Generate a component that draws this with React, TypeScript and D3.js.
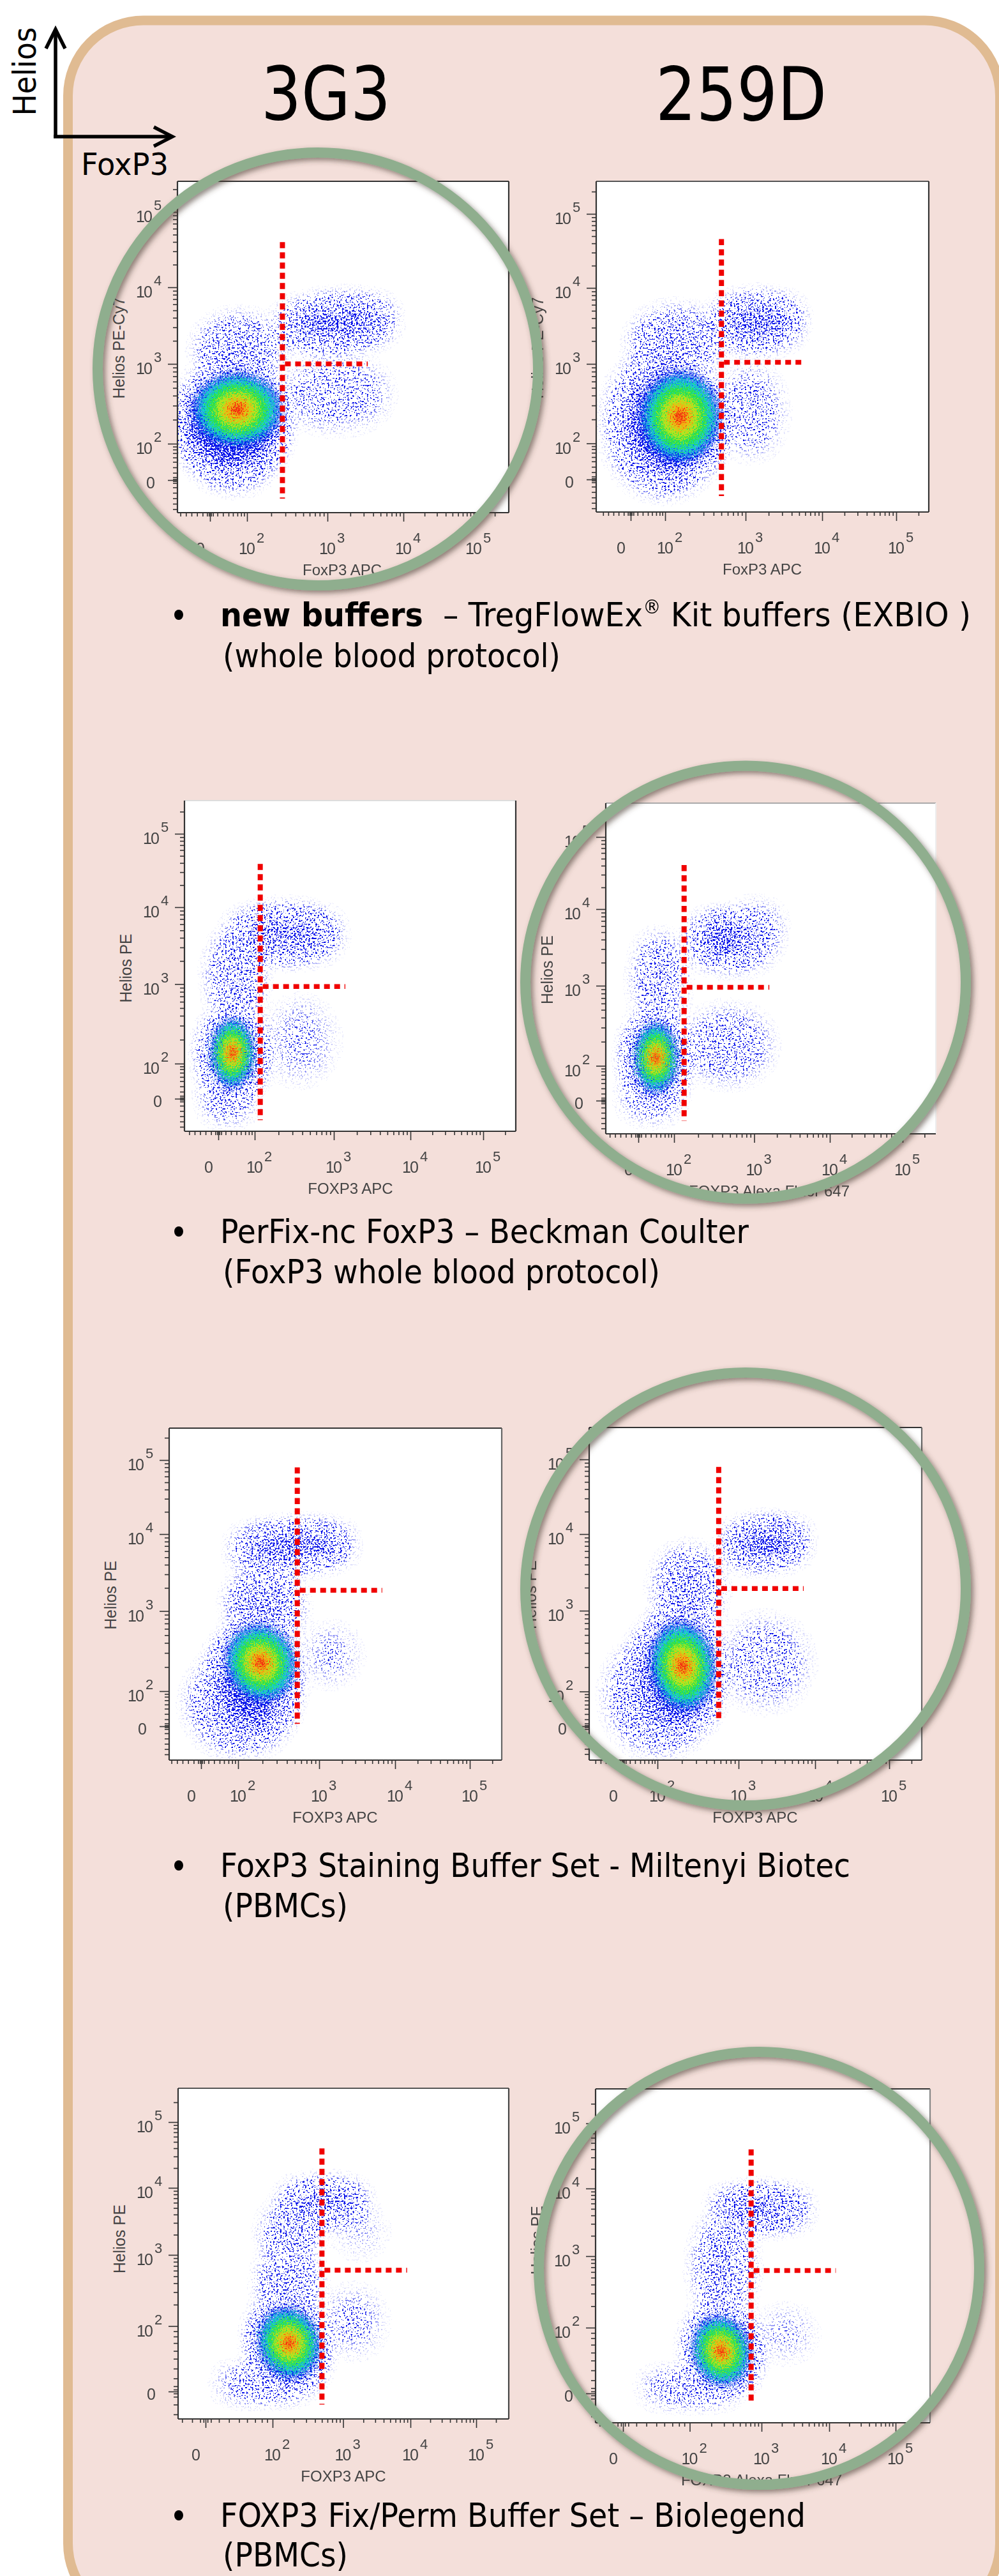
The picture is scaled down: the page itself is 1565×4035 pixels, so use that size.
import React, { useEffect, useRef } from 'react';
import * as d3 from 'd3';

// axis positions are in decades: 1 is the "0" tick, 2 is 10^2 ... 5 is 10^5
const tickDecades = [1, 2, 3, 4, 5];
const tickExponents = ['', '2', '3', '4', '5'];
const lowTicks = [0.2, 0.35, 0.5, 0.65, 0.8, 0.92, 0.97, 1.03, 1.08, 1.2, 1.35, 1.5, 1.62, 1.74, 1.84, 1.92];
const minorTicks = lowTicks.concat(
  d3.range(2, 6).flatMap((d) => d3.range(2, 10).map((k) => d + Math.log10(k))).filter((v) => v < 5.45),
);

// each cloud: xLow, xHigh, yLow, yHigh (decades), rotation, share of pixels holding an event
const clouds1 = [
  [0.4, 2.35, 1.5, 2.75, 0, 0.75],
  [0.5, 2.35, 1.05, 2.95, 0, 0.24],
  [0.9, 2.3, 2.85, 3.5, 0, 0.2],
  [2.5, 3.75, 3.35, 3.72, -4, 0.5],
  [2.55, 3.7, 2.3, 2.95, 0, 0.09],
];
const clouds2 = [
  [1.1, 2.6, 1.35, 2.8, 0, 0.75],
  [0.6, 2.55, 0.85, 3.05, 0, 0.22],
  [1.3, 2.55, 2.95, 3.6, 0, 0.2],
  [2.7, 3.6, 3.35, 3.75, -3, 0.5],
  [2.8, 3.35, 1.9, 2.85, 0, 0.1],
];
const clouds3 = [
  [0.85, 1.95, 1.4, 2.5, 0, 0.8],
  [0.85, 1.65, 0.65, 1.45, 0, 0.26],
  [1.05, 1.9, 2.65, 3.55, 0, 0.24],
  [1.55, 2.95, 3.45, 3.85, 0, 0.42],
  [2.25, 2.9, 1.7, 2.7, 0, 0.05],
];
const clouds4 = [
  [0.95, 2.0, 1.25, 2.5, 0, 0.85],
  [0.8, 1.9, 0.75, 1.4, 0, 0.18],
  [1.2, 1.95, 2.65, 3.55, 0, 0.2],
  [2.3, 3.15, 3.35, 3.8, 0, 0.24],
  [2.38, 2.8, 3.48, 3.78, 0, 0.65],
  [2.8, 3.25, 3.6, 3.95, 0, 0.12],
  [2.25, 3.1, 1.8, 2.6, 0, 0.12],
];
const clouds5 = [
  [1.5, 2.6, 1.0, 2.7, 0, 0.55],
  [0.9, 2.55, 0.5, 2.35, 0, 0.17],
  [2.0, 2.65, 2.75, 3.4, 0, 0.28],
  [2.05, 3.3, 3.7, 3.97, -3, 0.62],
  [2.9, 3.4, 2.2, 2.7, 0, 0.06],
];
const clouds6 = [
  [1.6, 2.65, 1.05, 2.85, 0, 0.55],
  [0.8, 2.55, 0.5, 2.55, 0, 0.16],
  [2.1, 2.65, 2.85, 3.7, 0, 0.22],
  [2.95, 3.75, 3.74, 4.02, -4, 0.72],
  [2.9, 3.8, 1.8, 2.8, 0, 0.08],
];
const clouds7 = [
  [1.85, 2.58, 1.2, 2.2, -15, 0.85],
  [1.3, 2.4, 1.08, 1.16, 0, 0.7],
  [1.95, 2.5, 2.3, 2.95, 0, 0.25],
  [2.0, 2.5, 3.05, 3.6, 0, 0.24],
  [2.25, 3.2, 3.64, 3.92, 0, 0.55],
  [2.85, 3.45, 1.7, 2.4, 0, 0.07],
  [3.0, 3.5, 3.1, 3.6, 0, 0.04],
];
const clouds8 = [
  [2.12, 2.78, 1.2, 2.1, -15, 0.85],
  [1.4, 2.55, 1.05, 1.12, 0, 0.7],
  [2.22, 2.72, 2.25, 3.45, 0, 0.22],
  [2.45, 3.55, 3.58, 3.82, 0, 0.6],
  [3.05, 3.65, 1.65, 2.15, 0, 0.05],
];

// dense centre of each sample: xLow, xHigh, yLow, yHigh, rotation
const core1 = [0.5, 2.45, 1.9, 2.9, 0];
const core2 = [1.25, 2.7, 1.45, 2.92, 0];
const core3 = [0.78, 2.0, 1.3, 2.58, 0];
const core4 = [0.88, 2.05, 1.2, 2.55, 0];
const core5 = [1.65, 2.72, 1.68, 2.85, -22];
const core6 = [1.78, 2.72, 1.42, 2.88, -8];
const core7 = [1.78, 2.68, 1.18, 2.28, -18];
const core8 = [2.03, 2.85, 1.1, 2.18, -15];

// quadrant gate: vertical x, horizontal y, top, bottom, right end
const gate1 = [2.44, 3.0, 4.6, 0.49, 3.53];
const gate2 = [2.7, 3.02, 4.66, 0.54, 3.78];
const gate3 = [2.07, 2.97, 4.59, 0.39, 3.15];
const gate4 = [2.125, 2.98, 4.61, 0.42, 3.2];
const gate5 = [2.73, 3.27, 4.9, 1.07, 3.83];
const gate6 = [2.755, 3.29, 4.9, 1.13, 3.85];
const gate7 = [2.7, 2.785, 4.6, 0.8, 3.95];
const gate8 = [2.855, 2.8, 4.6, 0.83, 4.1];

const xLabels = ['FoxP3 APC', 'FoxP3 APC', 'FOXP3 APC', 'FOXP3 Alexa Fluor 647', 'FOXP3 APC', 'FOXP3 APC', 'FOXP3 APC', 'FOXP3 Alexa Fluor 647'];
const yLabels = ['Helios PE-Cy7', 'Helios PE-Cy7', 'Helios PE', 'Helios PE', 'Helios PE', 'Helios PE', 'Helios PE', 'Helios PE'];

const allClouds = [clouds1, clouds2, clouds3, clouds4, clouds5, clouds6, clouds7, clouds8];
const allCores = [core1, core2, core3, core4, core5, core6, core7, core8];
const allGates = [gate1, gate2, gate3, gate4, gate5, gate6, gate7, gate8];

// page layout of the eight frames (left, right, top, bottom, then tick pixels)
const layouts = [
  { l: 278, r: 797, t: 284, b: 803, xt: [329, 387, 513, 632, 742], yt: [752, 695, 570, 450, 332], lx: 536, top: '#333', right: '#333' },
  { l: 934, r: 1455, t: 284, b: 802, xt: [988, 1042, 1168, 1288, 1404], yt: [751, 694.5, 570, 451, 335], lx: 1194, top: '#555', right: '#333' },
  { l: 289, r: 808, t: 1254, b: 1772, xt: [342, 399, 523, 643, 757], yt: [1721, 1666, 1541.5, 1421, 1306], lx: 549, top: '#ddd', right: '#333' },
  { l: 949, r: 1466, t: 1258, b: 1776, xt: [1000, 1056, 1181.5, 1300, 1414], yt: [1724, 1669.5, 1544, 1424, 1311], lx: 1205, top: '#aaa', right: '#eee' },
  { l: 265, r: 786, t: 2237, b: 2757, xt: [315, 373, 500, 619, 736], yt: [2704, 2649, 2523.5, 2403, 2287], lx: 525, top: '#333', right: '#666' },
  { l: 923, r: 1444, t: 2236, b: 2757, xt: [976, 1030, 1157, 1277, 1393], yt: [2704, 2649.5, 2523, 2403, 2286], lx: 1183, top: '#333', right: '#666' },
  { l: 279, r: 797, t: 3271, b: 3789, xt: [322, 427, 537.5, 643, 746], yt: [3746, 3643.5, 3532, 3427, 3324], lx: 538, top: '#555', right: '#444' },
  { l: 933, r: 1457, t: 3272, b: 3795, xt: [976, 1080.5, 1193, 1299, 1403], yt: [3749, 3646, 3534, 3428, 3326], lx: 1193, top: '#333', right: '#888' },
];

const rings = [
  [498, 578],
  [1168, 1538.5],
  [1168, 2489],
  [1189, 3553],
];

const coreLevels = [1, 0.9, 0.8, 0.66, 0.48, 0.3, 0.14];
const coreOpacity = [0.45, 0.7, 0.95, 1, 1, 1, 1];
const jet = d3
  .scaleLinear<string>()
  .domain(coreLevels)
  .range(['#1020f0', '#0a80f0', '#18d8d0', '#28e048', '#b0e820', '#f8b010', '#f02010']);

const plotFont = '"Liberation Sans", Arial, sans-serif';
const slideFont = '"DejaVu Sans", Verdana, sans-serif';

function Plot({ index }: { index: number }) {
  const lay = layouts[index];
  const xAxisRef = useRef<SVGGElement>(null);
  const yAxisRef = useRef<SVGGElement>(null);

  const x = d3.scaleLinear().domain(tickDecades).range(lay.xt);
  const y = d3.scaleLinear().domain(tickDecades).range(lay.yt);

  useEffect(() => {
    const bottom = d3.select(xAxisRef.current);
    const left = d3.select(yAxisRef.current);
    const inX = minorTicks.filter((v) => x(v) > lay.l && x(v) < lay.r);
    const inY = minorTicks.filter((v) => y(v) < lay.b && y(v) > lay.t + 10);
    bottom.selectAll('*').remove();
    left.selectAll('*').remove();
    bottom.append('g').call(d3.axisBottom(x).tickValues(inX).tickSize(6).tickFormat(() => ''));
    bottom.append('g').call(d3.axisBottom(x).tickValues(tickDecades).tickSize(14).tickFormat(() => ''));
    left.append('g').call(d3.axisLeft(y).tickValues(inY).tickSize(7).tickFormat(() => ''));
    left.append('g').call(d3.axisLeft(y).tickValues(tickDecades).tickSize(15).tickFormat(() => ''));
    bottom.selectAll('.domain').remove();
    left.selectAll('.domain').remove();
    bottom.selectAll('line').attr('stroke', '#333').attr('stroke-width', 1.6);
    left.selectAll('line').attr('stroke', '#333').attr('stroke-width', 1.6);
  }, []);

  const clipId = 'frame' + index;
  const blob = (e: number[], key: number, opacity: number, fill: string, scale = 1) => {
    const cx = (x(e[0]) + x(e[1])) / 2;
    const cy = (y(e[2]) + y(e[3])) / 2;
    return (
      <ellipse
        key={key}
        cx={cx}
        cy={cy}
        rx={(Math.abs(x(e[1]) - x(e[0])) / 2) * scale}
        ry={(Math.abs(y(e[3]) - y(e[2])) / 2) * scale}
        fill={fill}
        opacity={opacity}
        transform={`rotate(${e[4]} ${cx} ${cy})`}
      />
    );
  };

  const gate = allGates[index];

  return (
    <g>
      <clipPath id={clipId}>
        <rect x={lay.l} y={lay.t} width={lay.r - lay.l} height={lay.b - lay.t} />
      </clipPath>
      <rect x={lay.l} y={lay.t} width={lay.r - lay.l} height={lay.b - lay.t} fill="#fff" />

      <g clipPath={`url(#${clipId})`}>
        {/* the events themselves: cloud outlines come from the arrays, the grain is an svg filter */}
        <g filter="url(#speckle)">{allClouds[index].map((c, i) => blob(c, i, c[5], '#000'))}</g>
        <g filter="url(#grain)">
          {coreLevels.map((k, i) => blob(allCores[index], i, coreOpacity[i], jet(k), k))}
        </g>
      </g>

      {/* frame */}
      <line x1={lay.l} x2={lay.r} y1={lay.t} y2={lay.t} stroke={lay.top} strokeWidth={1.8} />
      <line x1={lay.r} x2={lay.r} y1={lay.t} y2={lay.b} stroke={lay.right} strokeWidth={2.2} />
      <line x1={lay.l} x2={lay.r} y1={lay.b} y2={lay.b} stroke="#333" strokeWidth={2.2} />
      <line x1={lay.l} x2={lay.l} y1={lay.t} y2={lay.b} stroke="#333" strokeWidth={2.2} />
      <g ref={xAxisRef} transform={`translate(0,${lay.b})`} />
      <g ref={yAxisRef} transform={`translate(${lay.l},0)`} />

      {/* tick labels */}
      <g fontFamily={plotFont} fill="#444">
        {tickDecades.map((d, i) =>
          tickExponents[i] === '' ? (
            <g key={d} fontSize={25}>
              <text x={x(d) - 15} y={lay.b + 65} textAnchor="middle">0</text>
              <text x={lay.l - 42} y={y(d) + 13} textAnchor="middle">0</text>
            </g>
          ) : (
            <g key={d} fontSize={25}>
              <text x={x(d)} y={lay.b + 65} textAnchor="middle" textLength={26} lengthAdjust="spacing">10</text>
              <text x={x(d) + 15} y={lay.b + 47} fontSize={22}>{tickExponents[i]}</text>
              <text x={lay.l - 52} y={y(d) + 16} textAnchor="middle" textLength={26} lengthAdjust="spacing">10</text>
              <text x={lay.l - 37} y={y(d) - 3} fontSize={22}>{tickExponents[i]}</text>
            </g>
          ),
        )}
        <text x={lay.lx} y={lay.b + 98} textAnchor="middle" fontSize={24}>
          {xLabels[index]}
        </text>
        <text
          transform={`translate(${lay.l - 83},${y(3) - 25}) rotate(-90)`}
          textAnchor="middle"
          fontSize={25}
          textLength={index < 2 ? 159 : 108}
          lengthAdjust="spacingAndGlyphs"
        >
          {yLabels[index]}
        </text>
      </g>

      {/* gate */}
      <g stroke="#f00000" fill="none">
        <line x1={x(gate[0])} x2={x(gate[0])} y1={y(gate[2])} y2={y(gate[3])} strokeWidth={8} strokeDasharray="9.5 6.5" />
        <line x1={x(gate[0]) + 4} x2={x(gate[4])} y1={y(gate[1])} y2={y(gate[1])} strokeWidth={7.5} strokeDasharray="9 7" />
      </g>
    </g>
  );
}

// slide text squeezed to the width it has in the picture
function Slide({ x, y, len, size = 52, weight, children }: any) {
  return (
    <text x={x} y={y} fontFamily={slideFont} fontSize={size} fontWeight={weight} fill="#000" textLength={len} lengthAdjust="spacingAndGlyphs">
      {children}
    </text>
  );
}

function App() {
  return (
    <svg width={1565} height={4035} style={{ position: 'absolute', left: 0, top: 0, display: 'block' }}>
      <defs>
        <filter id="speckle" x="-30%" y="-30%" width="160%" height="160%" colorInterpolationFilters="sRGB">
          <feGaussianBlur in="SourceAlpha" stdDeviation="17" result="density" />
          <feTurbulence type="fractalNoise" baseFrequency="0.36" numOctaves={2} seed={11} result="raw" />
          <feColorMatrix in="raw" type="matrix" values="0 0 0 0 0  0 0 0 0 0  0 0 0 0 0  3.6 0 0 0 -1.3" result="noise" />
          <feComposite in="noise" in2="density" operator="arithmetic" k1={0} k2={1} k3={1} k4={-1} result="hit" />
          <feComponentTransfer in="hit" result="mask">
            <feFuncA type="linear" slope={20} />
          </feComponentTransfer>
          <feFlood floodColor="#0a14ea" result="blue" />
          <feComposite in="blue" in2="mask" operator="in" />
        </filter>
        <filter id="grain" x="-30%" y="-30%" width="160%" height="160%" colorInterpolationFilters="sRGB">
          <feGaussianBlur in="SourceGraphic" stdDeviation="2.5" result="soft" />
          <feTurbulence type="fractalNoise" baseFrequency="0.5" numOctaves={2} seed={4} result="raw" />
          <feDisplacementMap in="soft" in2="raw" scale={52} xChannelSelector="R" yChannelSelector="G" />
        </filter>
        <filter id="ringShadow" x="-5%" y="-5%" width="110%" height="110%">
          <feDropShadow dx={4} dy={4} stdDeviation={4} floodColor="#4a3a32" floodOpacity={0.6} />
        </filter>
      </defs>

      <rect x={106.5} y={32} width={1460} height={4070} rx={118} ry={118} fill="#f4dfda" stroke="#e0bb92" strokeWidth={15} />

      {/* axis key */}
      <g stroke="#000" strokeWidth={5.5} fill="none">
        <line x1={87} x2={87} y1={216} y2={46} />
        <line x1={84} x2={268} y1={214} y2={214} />
        <polyline points="72,76 87,46 102,76" />
        <polyline points="241,199 270,214 241,229" />
      </g>
      <text transform="translate(56,112) rotate(-90)" textAnchor="middle" fontFamily={slideFont} fontSize={50} textLength={139} lengthAdjust="spacingAndGlyphs">
        Helios
      </text>
      <Slide x={127} y={274} len={137} size={48}>FoxP3</Slide>
      <Slide x={409} y={187} len={203} size={116}>3G3</Slide>
      <Slide x={1027} y={188} len={268} size={116}>259D</Slide>

      {layouts.map((_, i) => (
        <Plot key={i} index={i} />
      ))}

      {rings.map((r, i) => (
        <ellipse key={i} cx={r[0]} cy={r[1]} rx={345} ry={339} fill="none" stroke="#8fae8e" strokeWidth={16} filter="url(#ringShadow)" />
      ))}

      {/* captions */}
      {[963, 1929, 2922, 3940].map((cy) => (
        <ellipse key={cy} cx={280} cy={cy} rx={7} ry={8} fill="#000" />
      ))}
      <Slide x={345} y={981} len={318} weight="bold">new buffers</Slide>
      <Slide x={694} y={981} len={827}>
        – TregFlowEx<tspan fontSize={30} dy={-20}>®</tspan>
        <tspan dy={20}> Kit buffers (EXBIO )</tspan>
      </Slide>
      <Slide x={349} y={1045} len={529}>(whole blood protocol)</Slide>
      <Slide x={345} y={1947} len={828}>PerFix-nc FoxP3 – Beckman Coulter</Slide>
      <Slide x={349} y={2010} len={685}>(FoxP3 whole blood protocol)</Slide>
      <Slide x={345} y={2940} len={987}>FoxP3 Staining Buffer Set - Miltenyi Biotec</Slide>
      <Slide x={349} y={3003} len={196}>(PBMCs)</Slide>
      <Slide x={345} y={3958} len={917}>FOXP3 Fix/Perm Buffer Set – Biolegend</Slide>
      <Slide x={349} y={4020} len={196}>(PBMCs)</Slide>
    </svg>
  );
}

export default App;
